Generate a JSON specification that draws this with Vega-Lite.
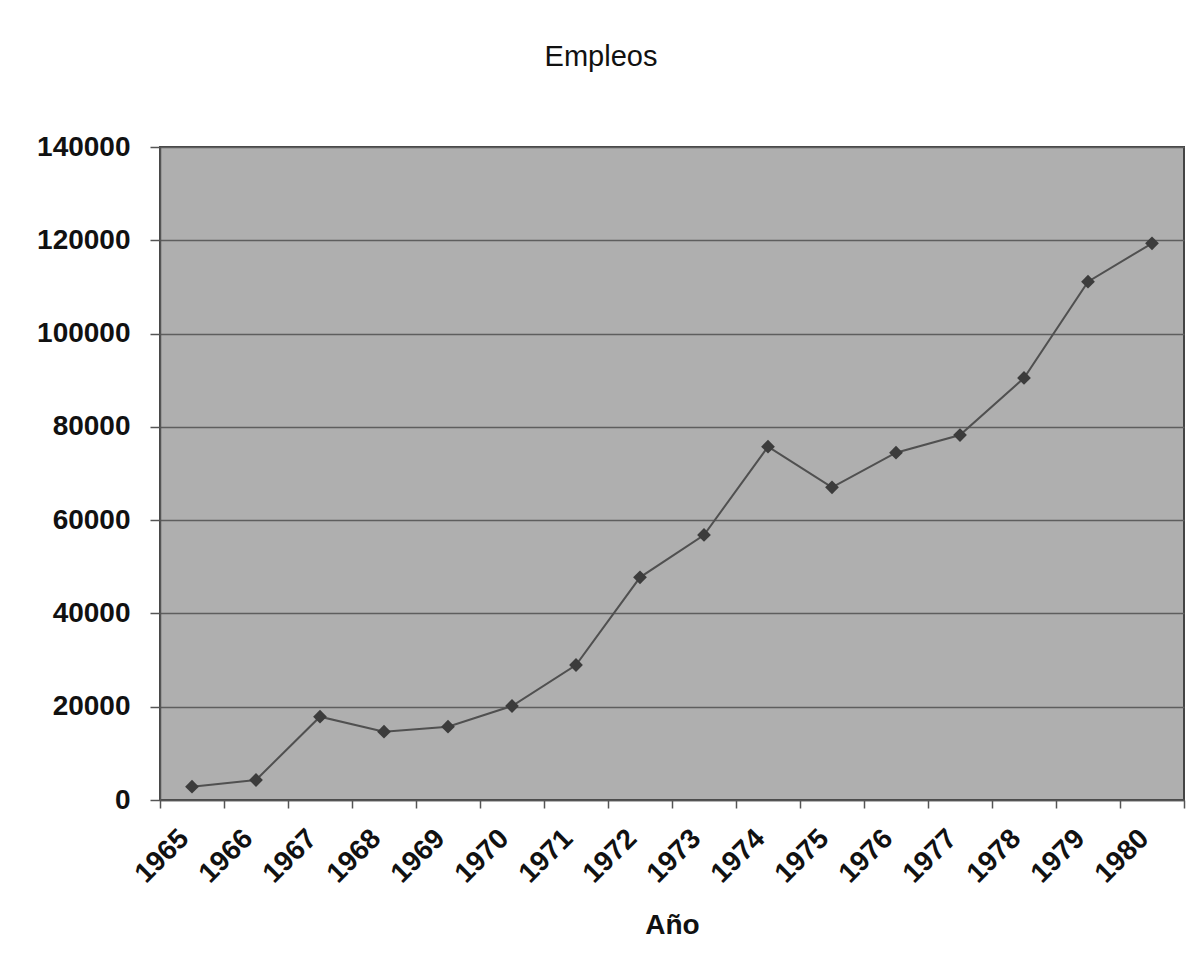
{
  "$schema": "https://vega.github.io/schema/vega-lite/v6.json",
  "width": 1024,
  "height": 653,
  "autosize": "none",
  "padding": {"left": 160, "top": 147, "right": 10, "bottom": 173},
  "background": "white",
  "title": {
    "text": "Empleos",
    "font": "Liberation Sans",
    "fontSize": 29,
    "fontWeight": "normal",
    "color": "#111",
    "anchor": "middle",
    "dx": -71,
    "baseline": "alphabetic",
    "offset": 38
  },
  "config": {
    "view": {"fill": "#afafaf", "stroke": "#444", "strokeWidth": 2},
    "axis": {
      "labelFont": "Liberation Sans",
      "titleFont": "Liberation Sans",
      "labelColor": "#111",
      "titleColor": "#111",
      "domainColor": "#555",
      "tickColor": "#555",
      "domainWidth": 1.5,
      "tickWidth": 1.5
    }
  },
  "data": {
    "values": [
      {"year": "1965", "empleos": 2860},
      {"year": "1966", "empleos": 4290},
      {"year": "1967", "empleos": 17860},
      {"year": "1968", "empleos": 14650},
      {"year": "1969", "empleos": 15720},
      {"year": "1970", "empleos": 20150},
      {"year": "1971", "empleos": 28940},
      {"year": "1972", "empleos": 47740},
      {"year": "1973", "empleos": 56820},
      {"year": "1974", "empleos": 75750},
      {"year": "1975", "empleos": 67040},
      {"year": "1976", "empleos": 74460},
      {"year": "1977", "empleos": 78250},
      {"year": "1978", "empleos": 90480},
      {"year": "1979", "empleos": 111130},
      {"year": "1980", "empleos": 119360}
    ]
  },
  "encoding": {
    "x": {
      "field": "year",
      "type": "ordinal",
      "scale": {"type": "band", "paddingInner": 0, "paddingOuter": 0},
      "axis": {
        "title": "Año",
        "titleFontSize": 28,
        "titleFontWeight": "bold",
        "titlePadding": 24,
        "labelAngle": -45,
        "labelAlign": "right",
        "labelBaseline": "middle",
        "labelFontSize": 28,
        "labelFontWeight": "bold",
        "labelPadding": 26,
        "labelOffset": -8,
        "tickBand": "extent",
        "tickSize": 8,
        "grid": false
      }
    },
    "y": {
      "field": "empleos",
      "type": "quantitative",
      "scale": {"domain": [0, 140000], "nice": false},
      "axis": {
        "title": null,
        "values": [0, 20000, 40000, 60000, 80000, 100000, 120000, 140000],
        "format": "d",
        "labelFontSize": 28,
        "labelFontWeight": "bold",
        "labelPadding": 20,
        "tickSize": 10,
        "grid": true,
        "gridColor": "#5e5e5e",
        "gridWidth": 1.5
      }
    }
  },
  "layer": [
    {
      "mark": {"type": "line", "color": "#505050", "strokeWidth": 2}
    },
    {
      "mark": {"type": "point", "shape": "diamond", "filled": true, "color": "#3c3c3c", "size": 190, "opacity": 1}
    }
  ]
}
